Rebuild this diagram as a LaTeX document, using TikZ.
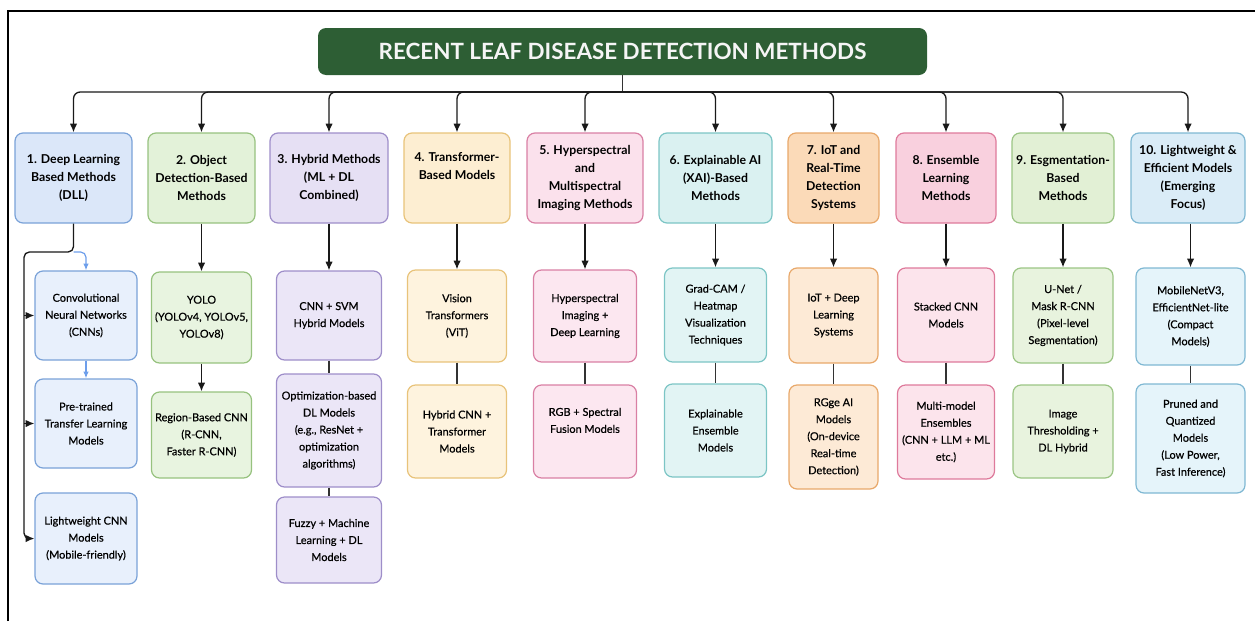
\documentclass[tikz,border=0pt]{standalone}
\usepackage{fontspec}
\setmainfont{Lato}
\newfontfamily\subfam{Lato}[FakeBold=0.5]
\usetikzlibrary{arrows.meta}

\definecolor{titlegreen}{RGB}{45,94,52}
\definecolor{dllblue}{RGB}{109,158,235}
% column colours: fill of head box, fill of sub boxes, border
\definecolor{fa}{RGB}{219,231,249}\definecolor{ga}{RGB}{232,240,252}\definecolor{da}{RGB}{122,162,216}
\definecolor{fb}{RGB}{227,242,217}\definecolor{gb}{RGB}{232,244,224}\definecolor{db}{RGB}{151,194,127}
\definecolor{fc}{RGB}{230,224,244}\definecolor{gc}{RGB}{235,230,247}\definecolor{dc}{RGB}{158,142,201}
\definecolor{fd}{RGB}{253,238,210}\definecolor{gd}{RGB}{254,243,222}\definecolor{dd}{RGB}{232,195,122}
\definecolor{fe}{RGB}{251,225,236}\definecolor{ge}{RGB}{252,231,240}\definecolor{de}{RGB}{217,128,164}
\definecolor{ff}{RGB}{218,241,241}\definecolor{gf}{RGB}{226,244,244}\definecolor{df}{RGB}{124,197,197}
\definecolor{fg}{RGB}{251,218,184}\definecolor{gg}{RGB}{253,234,214}\definecolor{dg}{RGB}{232,168,106}
\definecolor{fh}{RGB}{249,208,222}\definecolor{gh}{RGB}{252,228,236}\definecolor{dh}{RGB}{222,122,155}
\definecolor{fi}{RGB}{226,240,213}\definecolor{gi}{RGB}{232,243,222}\definecolor{di}{RGB}{155,197,132}
\definecolor{fj}{RGB}{218,236,247}\definecolor{gj}{RGB}{229,244,250}\definecolor{dj}{RGB}{127,184,211}

\newcommand\headfont{\fontsize{9.2}{13.5}\selectfont\bfseries}
\newcommand\subfont{\subfam\fontsize{8.2}{12.75}\selectfont}

\tikzset{
  headbox/.style={rounded corners=6pt, line width=0.9pt, align=center, inner sep=1pt, font=\headfont},
  subbox/.style={rounded corners=6pt, line width=0.9pt, align=center, inner sep=1pt, font=\subfont},
  boxsize/.style 2 args={minimum width=#1*0.75pt, minimum height=#2*0.75pt},
  arr/.style={-{Latex[length=6.5pt,width=5.5pt]}, line width=1pt, black!90},
  link/.style={line width=1pt, black!80},
  bluearr/.style={-{Latex[length=5pt,width=4pt]}, line width=0.9pt, dllblue},
}

\begin{document}
\begin{tikzpicture}[x=0.75pt,y=0.75pt,yscale=-1,xscale=1]
\useasboundingbox (0,0) rectangle (1255,621);

%Frame
\draw [line width=2.2pt] (8,621) -- (8,11) -- (1255,11) ;

%Title
\node [fill=titlegreen, rounded corners=6pt, boxsize={609}{47}, text=white!96!black, font=\fontsize{16.8}{18}\selectfont\bfseries] (title) at (622.5,51.5) {RECENT LEAF DISEASE DETECTION METHODS};
\coordinate (bus) at (622.5,92);

%Head boxes
\node [headbox, fill=fa, draw=da, boxsize={117}{90}] (h1) at (73.5,178) {1. Deep Learning\\Based Methods\\(DLL)};
\node [headbox, fill=fb, draw=db, boxsize={107}{90}] (h2) at (201.5,178) {2. Object\\Detection-Based\\Methods};
\node [headbox, fill=fc, draw=dc, boxsize={118}{90}] (h3) at (329,178) {3. Hybrid Methods\\(ML + DL\\Combined)};
\node [headbox, fill=fd, draw=dd, boxsize={106}{90}] (h4) at (457,178) {4. Transformer-\\Based Models\\[4pt]};
\node [headbox, fill=fe, draw=de, boxsize={116}{90}] (h5) at (585,178) {5. Hyperspectral\\and\\Multispectral\\Imaging Methods};
\node [headbox, fill=ff, draw=df, boxsize={113}{90}] (h6) at (715.5,178) {6. Explainable AI\\(XAI)-Based\\Methods};
\node [headbox, fill=fg, draw=dg, boxsize={91}{90}] (h7) at (833.5,178) {7. IoT and\\Real-Time\\Detection\\Systems};
\node [headbox, fill=fh, draw=dh, boxsize={100}{90}] (h8) at (946,178) {8. Ensemble\\Learning\\Methods};
\node [headbox, fill=fi, draw=di, boxsize={102}{90}] (h9) at (1063,178) {9. Esgmentation-\\Based\\Methods};
\node [headbox, fill=fj, draw=dj, boxsize={114}{90}] (h10) at (1188,178) {10. Lightweight \&\\Efficient Models\\(Emerging\\Focus)};

%Bus from title to head boxes
\draw [link] (title.south) -- (bus) ;
\draw [arr, rounded corners=5pt] (bus) -| (h1.north) ;
\draw [arr, rounded corners=5pt] (bus) -| (h2.north) ;
\draw [arr, rounded corners=5pt] (bus) -| (h3.north) ;
\draw [arr, rounded corners=5pt] (bus) -| (h4.north) ;
\draw [arr, rounded corners=5pt] (bus) -| (h5.north) ;
\draw [arr, rounded corners=5pt] (bus) -| (h6.north) ;
\draw [arr, rounded corners=5pt] (bus) -| (h7.north) ;
\draw [arr, rounded corners=5pt] (bus) -| (h8.north) ;
\draw [arr, rounded corners=5pt] (bus) -| (h9.north) ;
\draw [arr, rounded corners=5pt] (bus) -| (h10.north) ;

%Column 1
\node [subbox, fill=ga, draw=da, boxsize={102}{89}] (s11) at (86,315.5) {Convolutional\\Neural Networks\\(CNNs)};
\node [subbox, fill=ga, draw=da, boxsize={102}{89}] (s12) at (86,423.5) {Pre-trained\\Transfer Learning\\Models};
\node [subbox, fill=ga, draw=da, boxsize={102}{91}] (s13) at (86,538.5) {Lightweight CNN\\Models\\(Mobile-friendly)};
\coordinate (j1) at (73.5,252);
\coordinate (rail) at (24,252);
\draw [arr, rounded corners=4pt] (h1.south) -- (j1) -- (rail) |- (s13.west) ;
\draw [arr] (rail |- s11.west) -- (s11.west) ;
\draw [arr] (rail |- s12.west) -- (s12.west) ;
\draw [bluearr, rounded corners=4pt] (j1) -| (s11.north) ;
\draw [bluearr] (s11.south) -- (s12.north) ;

%Column 2
\node [subbox, fill=gb, draw=db, boxsize={100}{91}] (s21) at (201.5,317.5) {YOLO\\(YOLOv4, YOLOv5,\\YOLOv8)};
\node [subbox, fill=gb, draw=db, boxsize={100}{86}] (s22) at (201.5,435) {Region-Based CNN\\(R-CNN,\\Faster R-CNN)};
\draw [arr] (h2.south) -- (s21.north) ;
\draw [arr] (s21.south) -- (s22.north) ;

%Column 3
\node [subbox, fill=gc, draw=dc, boxsize={105}{89}] (s31) at (329,315.5) {CNN + SVM\\Hybrid Models};
\node [subbox, fill=gc, draw=dc, boxsize={105}{113}] (s32) at (329,430.5) {Optimization-based\\DL Models\\(e.g., ResNet +\\optimization\\algorithms)};
\node [subbox, fill=gc, draw=dc, boxsize={105}{86}] (s33) at (329,540) {Fuzzy + Machine\\Learning + DL\\Models};
\draw [arr] (h3.south) -- (s31.north) ;
\draw [link] (s31.south) -- (s32.north) ;
\draw [link] (s32.south) -- (s33.north) ;

%Column 4
\node [subbox, fill=gd, draw=dd, boxsize={99}{92}] (s41) at (457,316) {Vision\\Transformers\\(ViT)};
\node [subbox, fill=gd, draw=dd, boxsize={99}{93}] (s42) at (457,431.5) {Hybrid CNN +\\Transformer\\Models};
\draw [arr] (h4.south) -- (s41.north) ;
\draw [link] (s41.south) -- (s42.north) ;

%Column 5
\node [subbox, fill=ge, draw=de, boxsize={103}{92}] (s51) at (585,316) {Hyperspectral\\Imaging +\\Deep Learning};
\node [subbox, fill=ge, draw=de, boxsize={103}{93}] (s52) at (585,431.5) {RGB + Spectral\\Fusion Models\\[4pt]};
\draw [arr] (h5.south) -- (s51.north) ;
\draw [link] (s51.south) -- (s52.north) ;

%Column 6
\node [subbox, fill=gf, draw=df, boxsize={102}{94}] (s61) at (715.5,315) {Grad-CAM /\\Heatmap\\Visualization\\Techniques};
\node [subbox, fill=gf, draw=df, boxsize={102}{93}] (s62) at (715.5,430.5) {Explainable\\Ensemble\\Models};
\draw [arr] (h6.south) -- (s61.north) ;
\draw [link] (s61.south) -- (s62.north) ;

%Column 7
\node [subbox, fill=gg, draw=dg, boxsize={89}{95}] (s71) at (833.5,315.5) {IoT + Deep\\Learning\\Systems};
\node [subbox, fill=gg, draw=dg, boxsize={89}{104}] (s72) at (833.5,437) {RGge AI\\Models\\(On-device\\Real-time\\Detection)};
\draw [arr] (h7.south) -- (s71.north) ;
\draw [link] (s71.south) -- (s72.north) ;

%Column 8
\node [subbox, fill=gh, draw=dh, boxsize={97}{94}] (s81) at (946,315) {Stacked CNN\\Models};
\node [subbox, fill=gh, draw=dh, boxsize={97}{94}] (s82) at (946,432) {Multi-model\\Ensembles\\(CNN + LLM + ML\\etc.)};
\draw [arr] (h8.south) -- (s81.north) ;
\draw [link] (s81.south) -- (s82.north) ;

%Column 9
\node [subbox, fill=gi, draw=di, boxsize={100}{95}] (s91) at (1063,315.5) {U-Net /\\Mask R-CNN\\(Pixel-level\\Segmentation)};
\node [subbox, fill=gi, draw=di, boxsize={100}{93}] (s92) at (1063,431.5) {Image\\Thresholding +\\DL Hybrid};
\draw [arr] (h9.south) -- (s91.north) ;
\draw [link] (s91.south) -- (s92.north) ;

%Column 10
\node [subbox, fill=gj, draw=dj, boxsize={109}{97}] (s101) at (1190.5,316.5) {MobileNetV3,\\EfficientNet-lite\\(Compact\\Models)};
\node [subbox, fill=gj, draw=dj, boxsize={109}{109}] (s102) at (1190.5,438.5) {Pruned and\\Quantized\\Models\\(Low Power,\\Fast Inference)};
\draw [arr] (h10.south -| s101.north) -- (s101.north) ;
\draw [link] (s101.south) -- (s102.north) ;

\end{tikzpicture}
\end{document}
